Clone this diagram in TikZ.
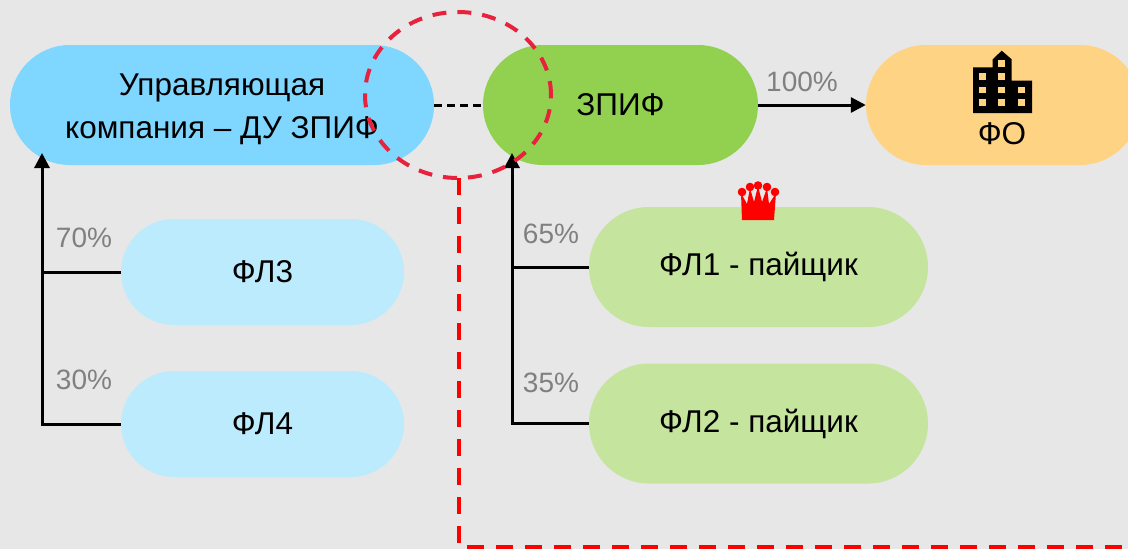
\documentclass[tikz,border=0pt]{standalone}
\usepackage{fontspec}
\setmainfont{Liberation Sans}
\usetikzlibrary{arrows.meta}
\definecolor{bgc}{HTML}{E7E7E7}
\definecolor{ukc}{HTML}{7FD6FF}
\definecolor{zpifc}{HTML}{92D050}
\definecolor{foc}{HTML}{FFD384}
\definecolor{flbc}{HTML}{BDEBFE}
\definecolor{flgc}{HTML}{C5E49D}
\definecolor{pctc}{HTML}{808080}
\definecolor{circc}{HTML}{E8213C}
\definecolor{rectc}{HTML}{FF0000}
\tikzset{
  pill/.style={draw=none, rounded corners=#1, inner sep=0pt, align=center,
    font=\fontsize{31.5}{43}\selectfont},
  pct/.style={text=pctc, font=\fontsize{28}{32}\selectfont, inner sep=0pt},
  conn/.style={line width=3pt, draw=black, -{Triangle[length=15pt,width=15pt]}},
  plain/.style={line width=3pt, draw=black},
}
\begin{document}
\begin{tikzpicture}[x=1pt,y=-1pt]
\fill[bgc] (0,0) rectangle (1128,549);
\useasboundingbox (0,0) rectangle (1128,549);

% nodes
\node[pill=60pt, fill=ukc, minimum width=424pt, minimum height=120pt] (uk) at (222,105) {\rule{0pt}{31pt}Управляющая\\компания – ДУ ЗПИФ};
\node[pill=60pt, fill=zpifc, minimum width=275pt, minimum height=120pt] (zpif) at (620.5,105) {ЗПИФ};
\node[pill=60pt, fill=foc, minimum width=274pt, minimum height=120pt] (fo) at (1003,105) {};
\node[pill=53pt, fill=flbc, minimum width=283pt, minimum height=106pt] (fl3) at (262.5,272) {ФЛ3};
\node[pill=53pt, fill=flbc, minimum width=283pt, minimum height=106pt] (fl4) at (262.5,424) {ФЛ4};
\node[pill=60pt, fill=flgc, minimum width=339pt, minimum height=120pt] (fl1) at (758.5,267) {ФЛ1 - пайщик};
\node[pill=60pt, fill=flgc, minimum width=339pt, minimum height=120pt] (fl2) at (758.5,423.5) {ФЛ2 - пайщик};

% FO label and building icon
\node[font=\fontsize{31.5}{36}\selectfont, inner sep=0pt] (fotext) at (1002,134) {ФО};
\fill[black] (973,113) -- (973,67.3) -- (992.7,67.3) -- (992.7,59.3) -- (1001.7,50.7)
  -- (1011.7,59.3) -- (1011.7,80.7) -- (1032,80.7) -- (1032,113) -- cycle;
\foreach \wx/\wy in {982.3/76.7, 982.3/90, 982.3/102.7,
  1001.7/63.3, 1001.7/76.7, 1001.7/90, 1001.7/102.7,
  1021.7/90, 1021.7/102.7}
  \fill[foc] (\wx-3.3,\wy-3.3) rectangle (\wx+3.3,\wy+3.3);

% crown
\fill[rectc] (742,220) -- (774,220) -- (776,193) -- (769,204) -- (767,188) -- (762,202)
  -- (758,186) -- (754,202) -- (750,188) -- (747,204) -- (741,193) -- cycle;
\foreach \cx/\cy in {742/192, 750/187, 758/185.5, 767/187, 775/192}
  \fill[rectc] (\cx,\cy) circle (4.3pt);

% connectors
\coordinate (ukin) at (42,153);
\coordinate (zpifin) at (512,153);
\draw[conn] (fl4.west) -| (ukin);
\draw[plain] (fl3.west) -- (fl3.west -| ukin);
\draw[conn] (fl2.west) -| (zpifin);
\draw[plain] (fl1.west) -- (fl1.west -| zpifin);
\draw[conn] (zpif.east) -- (fo.west);
\draw[plain, dash pattern=on 8pt off 5pt] (uk.east) -- (zpif.west);

% percentages
\node[pct] (p70) at (84,238) {70\%};
\node[pct] (p30) at (84,380) {30\%};
\node[pct] (p65) at (551,234) {65\%};
\node[pct] (p35) at (551,383) {35\%};
\node[pct] (p100) at (802,82) {100\%};

% red dashed ellipse and rectangle
\draw[circc, line width=4pt, dash pattern=on 14pt off 11pt] (458,95) ellipse [x radius=93pt, y radius=83pt];
\coordinate (r1) at (459,178);
\coordinate (r2) at (459,547);
\coordinate (r3) at (1140,547);
\draw[rectc, line width=4pt, dash pattern=on 17pt off 12pt] (r1) -- (r2) -- (r3);
\end{tikzpicture}
\end{document}
